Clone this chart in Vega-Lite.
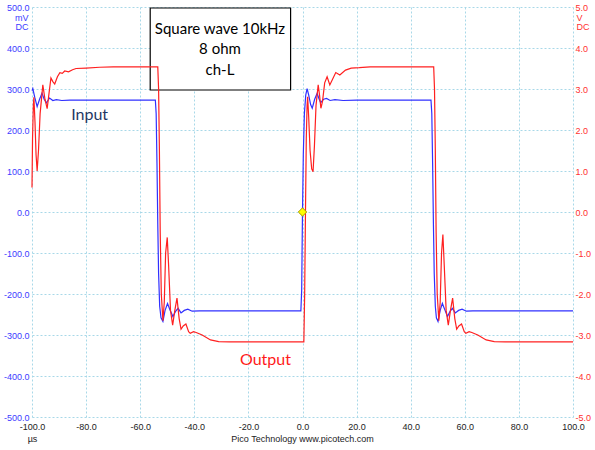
{
  "$schema": "https://vega.github.io/schema/vega-lite/v6.json",
  "width": 541,
  "height": 410,
  "autosize": {"type": "none"},
  "padding": {"left": 32, "top": 7, "right": 22, "bottom": 33},
  "background": "white",
  "config": {
    "view": {"stroke": null},
    "axis": {"labelFont": "Liberation Sans", "labelFontSize": 9, "titleFont": "Liberation Sans", "titleFontSize": 9, "titleFontWeight": "normal", "domain": false, "ticks": false, "labelOverlap": false, "labelFlush": false}
  },
  "encoding": {
    "x": {
      "field": "t", "type": "quantitative",
      "scale": {"domain": [-100, 100], "nice": false, "zero": false},
      "axis": {
        "values": [-100, -80, -60, -40, -20, 0, 20, 40, 60, 80, 100],
        "labelExpr": "datum.value == -100 ? ['-100.0','µs'] : replace(format(datum.value, '.1f'), '−', '-')",
        "labelColor": "#222222", "labelPadding": 5, "labelLineHeight": 12,
        "grid": true, "gridColor": "#a8d8e8", "gridDash": [2, 2],
        "title": "Pico Technology  www.picotech.com", "titleColor": "#222222",
        "titleX": 270, "titleY": 21, "titleBaseline": "middle", "titleAlign": "center"
      }
    }
  },
  "resolve": {"scale": {"y": "independent"}},
  "layer": [
    {
      "encoding": {
        "y": {
          "field": "mV", "type": "quantitative",
          "scale": {"domain": [-500, 500], "nice": false, "zero": false},
          "axis": {
            "orient": "left",
            "values": [-500, -400, -300, -200, -100, 0, 100, 200, 300, 400, 500],
            "labelExpr": "replace(format(datum.value, '.1f'), '−', '-')",
            "labelColor": "#3c3cff", "labelPadding": 3,
            "grid": true, "gridColor": "#a8d8e8", "gridDash": [2, 2],
            "title": ["mV", "DC"], "titleColor": "#3c3cff", "titleAngle": 0,
            "titleAlign": "right", "titleBaseline": "top", "titleX": -4, "titleY": 6, "titleLineHeight": 9
          }
        }
      },
      "layer": [
        {
          "data": {"values": [{"t": -56.3, "t2": -4.4, "mV": 497.6, "mV2": 297.6}]},
          "mark": {"type": "rect", "fill": "white", "stroke": "black", "strokeWidth": 1.2},
          "encoding": {"x2": {"field": "t2"}, "y2": {"field": "mV2"}}
        },
        {
          "data": {"values": [
            {"t": -100.0, "mV": 296}, {"t": -99.7, "mV": 301}, {"t": -99.0, "mV": 280}, {"t": -98.1, "mV": 257},
            {"t": -97.2, "mV": 275}, {"t": -96.3, "mV": 290}, {"t": -95.5, "mV": 275}, {"t": -94.7, "mV": 266},
            {"t": -93.5, "mV": 278}, {"t": -92.3, "mV": 272}, {"t": -91.0, "mV": 274}, {"t": -89.0, "mV": 272},
            {"t": -86.0, "mV": 273}, {"t": -60.0, "mV": 273}, {"t": -54.4, "mV": 273}, {"t": -54.1, "mV": 240},
            {"t": -53.8, "mV": 120}, {"t": -53.5, "mV": -30}, {"t": -53.2, "mV": -150}, {"t": -52.8, "mV": -230},
            {"t": -52.3, "mV": -258}, {"t": -51.6, "mV": -267}, {"t": -50.8, "mV": -240}, {"t": -49.9, "mV": -223},
            {"t": -48.9, "mV": -240}, {"t": -47.9, "mV": -255}, {"t": -47.0, "mV": -243}, {"t": -46.0, "mV": -235},
            {"t": -44.9, "mV": -246}, {"t": -43.7, "mV": -240}, {"t": -42.4, "mV": -237}, {"t": -40.8, "mV": -242},
            {"t": -38.0, "mV": -241}, {"t": -0.6, "mV": -241}, {"t": -0.3, "mV": -190}, {"t": 0.0, "mV": 0},
            {"t": 0.3, "mV": 140}, {"t": 0.7, "mV": 240}, {"t": 1.2, "mV": 285}, {"t": 1.7, "mV": 301},
            {"t": 2.3, "mV": 285}, {"t": 3.0, "mV": 262}, {"t": 3.6, "mV": 253}, {"t": 4.5, "mV": 275},
            {"t": 5.4, "mV": 289}, {"t": 6.0, "mV": 278}, {"t": 6.7, "mV": 267}, {"t": 7.8, "mV": 275},
            {"t": 8.9, "mV": 277}, {"t": 10.2, "mV": 272}, {"t": 12.0, "mV": 274}, {"t": 15.0, "mV": 272},
            {"t": 20.0, "mV": 273}, {"t": 47.5, "mV": 273}, {"t": 47.8, "mV": 240}, {"t": 48.1, "mV": 120},
            {"t": 48.4, "mV": -30}, {"t": 48.7, "mV": -150}, {"t": 49.1, "mV": -230}, {"t": 49.5, "mV": -258},
            {"t": 50.1, "mV": -267}, {"t": 50.9, "mV": -240}, {"t": 51.7, "mV": -223}, {"t": 52.7, "mV": -240},
            {"t": 53.6, "mV": -255}, {"t": 54.5, "mV": -243}, {"t": 55.4, "mV": -235}, {"t": 56.5, "mV": -246},
            {"t": 57.7, "mV": -240}, {"t": 59.0, "mV": -237}, {"t": 60.6, "mV": -242}, {"t": 63.0, "mV": -241},
            {"t": 100.0, "mV": -241}
          ]},
          "mark": {"type": "line", "color": "#3030ff", "strokeWidth": 1.2},
          "encoding": {"order": {"field": "t", "type": "quantitative"}}
        },
        {
          "data": {"values": [
            {"t": -30.5, "mV": 446, "label": "Square wave 10kHz"},
            {"t": -30.5, "mV": 397, "label": "8 ohm"},
            {"t": -30.5, "mV": 346, "label": "ch-L"}
          ]},
          "mark": {"type": "text", "font": "Lato", "fontSize": 15, "color": "black", "baseline": "middle", "align": "center"},
          "encoding": {"text": {"field": "label"}}
        },
        {
          "data": {"values": [{"t": -78.7, "mV": 236, "label": "Input"}]},
          "mark": {"type": "text", "font": "Lato", "fontSize": 16, "color": "#1f3864", "baseline": "middle", "align": "center"},
          "encoding": {"text": {"field": "label"}}
        },
        {
          "data": {"values": [{"t": -13.7, "mV": -362, "label": "Output"}]},
          "mark": {"type": "text", "font": "Lato", "fontSize": 16, "color": "#ff1a1a", "baseline": "middle", "align": "center"},
          "encoding": {"text": {"field": "label"}}
        }
      ]
    },
    {
      "data": {"values": [
        {"t": -100.0, "V": 0.6}, {"t": -99.8, "V": 1.8}, {"t": -99.5, "V": 2.6}, {"t": -99.3, "V": 2.8},
        {"t": -98.9, "V": 2.2}, {"t": -98.5, "V": 1.4}, {"t": -98.1, "V": 1.0}, {"t": -97.6, "V": 1.5},
        {"t": -97.0, "V": 2.4}, {"t": -96.0, "V": 3.1}, {"t": -95.2, "V": 2.75}, {"t": -94.4, "V": 2.52},
        {"t": -93.7, "V": 2.9}, {"t": -93.0, "V": 3.27}, {"t": -92.3, "V": 3.18}, {"t": -91.6, "V": 3.12},
        {"t": -90.6, "V": 3.3}, {"t": -89.7, "V": 3.4}, {"t": -88.8, "V": 3.38}, {"t": -87.9, "V": 3.44},
        {"t": -86.5, "V": 3.42}, {"t": -85.0, "V": 3.47}, {"t": -83.7, "V": 3.5}, {"t": -80.0, "V": 3.51},
        {"t": -75.0, "V": 3.53}, {"t": -70.0, "V": 3.54}, {"t": -53.5, "V": 3.54}, {"t": -53.2, "V": 3.0},
        {"t": -52.9, "V": 1.5}, {"t": -52.6, "V": -0.5}, {"t": -52.2, "V": -2.0}, {"t": -51.6, "V": -2.65},
        {"t": -51.1, "V": -2.2}, {"t": -50.6, "V": -1.0}, {"t": -50.0, "V": -0.62}, {"t": -49.5, "V": -1.3},
        {"t": -48.8, "V": -2.4}, {"t": -48.0, "V": -2.76}, {"t": -47.2, "V": -2.4}, {"t": -46.4, "V": -2.1},
        {"t": -45.6, "V": -2.6}, {"t": -44.9, "V": -2.86}, {"t": -44.1, "V": -2.78}, {"t": -43.1, "V": -2.73},
        {"t": -42.1, "V": -2.92}, {"t": -41.5, "V": -2.96}, {"t": -40.3, "V": -2.92}, {"t": -39.3, "V": -2.94},
        {"t": -37.1, "V": -3.0}, {"t": -34.0, "V": -3.12}, {"t": -31.0, "V": -3.16}, {"t": -27.0, "V": -3.17},
        {"t": 0.5, "V": -3.17}, {"t": 0.8, "V": -2.0}, {"t": 1.1, "V": 0.0}, {"t": 1.4, "V": 1.8},
        {"t": 1.7, "V": 2.6}, {"t": 1.9, "V": 2.81}, {"t": 2.3, "V": 2.3}, {"t": 2.8, "V": 1.5},
        {"t": 3.4, "V": 1.05}, {"t": 3.9, "V": 0.98}, {"t": 4.4, "V": 1.6}, {"t": 5.0, "V": 2.6},
        {"t": 5.8, "V": 3.1}, {"t": 6.3, "V": 2.85}, {"t": 6.8, "V": 2.53}, {"t": 7.4, "V": 2.7},
        {"t": 8.2, "V": 3.15}, {"t": 9.1, "V": 3.3}, {"t": 10.1, "V": 3.1}, {"t": 11.2, "V": 3.25},
        {"t": 12.3, "V": 3.4}, {"t": 13.8, "V": 3.34}, {"t": 15.9, "V": 3.46}, {"t": 18.0, "V": 3.51},
        {"t": 21.0, "V": 3.52}, {"t": 25.0, "V": 3.54}, {"t": 48.5, "V": 3.54}, {"t": 48.8, "V": 3.0},
        {"t": 49.1, "V": 1.5}, {"t": 49.4, "V": -0.5}, {"t": 49.8, "V": -2.0}, {"t": 50.4, "V": -2.65},
        {"t": 50.9, "V": -2.2}, {"t": 51.4, "V": -1.0}, {"t": 51.9, "V": -0.55}, {"t": 52.4, "V": -1.3},
        {"t": 53.1, "V": -2.4}, {"t": 53.9, "V": -2.76}, {"t": 54.7, "V": -2.4}, {"t": 55.5, "V": -2.1},
        {"t": 56.3, "V": -2.6}, {"t": 57.0, "V": -2.86}, {"t": 57.8, "V": -2.78}, {"t": 58.8, "V": -2.73},
        {"t": 59.8, "V": -2.92}, {"t": 60.4, "V": -2.96}, {"t": 61.6, "V": -2.92}, {"t": 62.6, "V": -2.94},
        {"t": 64.8, "V": -3.0}, {"t": 67.9, "V": -3.12}, {"t": 70.9, "V": -3.16}, {"t": 75.0, "V": -3.17},
        {"t": 100.0, "V": -3.17}
      ]},
      "mark": {"type": "line", "color": "#ff2020", "strokeWidth": 1.2},
      "encoding": {
        "order": {"field": "t", "type": "quantitative"},
        "y": {
          "field": "V", "type": "quantitative",
          "scale": {"domain": [-5, 5], "nice": false, "zero": false},
          "axis": {
            "orient": "right",
            "values": [-5, -4, -3, -2, -1, 0, 1, 2, 3, 4, 5],
            "labelExpr": "replace(format(datum.value, '.1f'), '−', '-')",
            "labelColor": "#ff3030", "labelPadding": 2, "grid": false,
            "title": ["V", "DC"], "titleColor": "#ff3030", "titleAngle": 0,
            "titleAlign": "left", "titleBaseline": "top", "titleX": 3, "titleY": 6, "titleLineHeight": 9
          }
        }
      }
    },
    {
      "data": {"values": [{"t": 0, "V": 0}]},
      "mark": {"type": "point", "shape": "diamond", "filled": true, "fill": "#ffff00", "stroke": "#a89a00", "strokeWidth": 1, "size": 70, "opacity": 1},
      "encoding": {
        "y": {"field": "V", "type": "quantitative", "scale": {"domain": [-5, 5], "nice": false, "zero": false}, "axis": null}
      }
    }
  ]
}
